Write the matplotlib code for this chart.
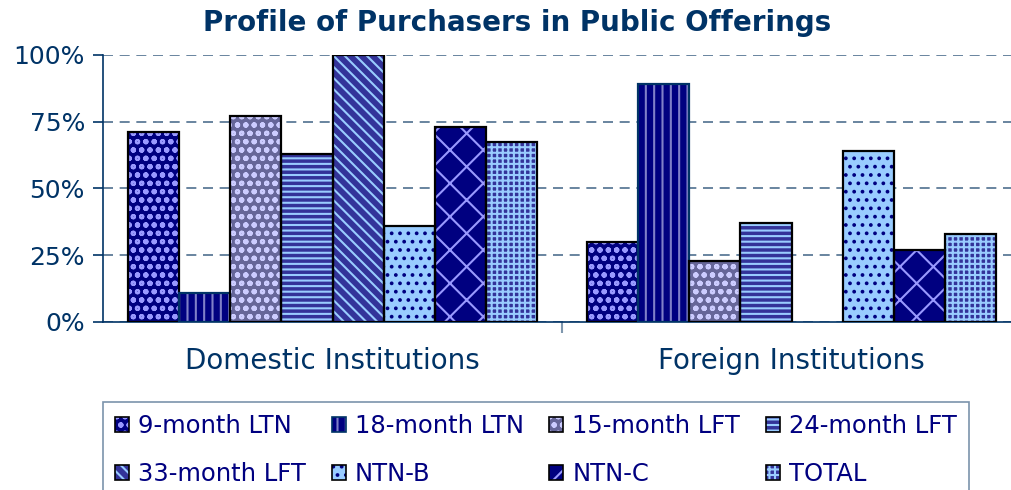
import numpy as np
import matplotlib
matplotlib.use('Agg')
import matplotlib.pyplot as plt
from matplotlib.patches import Patch
from matplotlib.legend_handler import HandlerTuple

categories = ['Domestic Institutions', 'Foreign Institutions']
series = ['9-month LTN', '18-month LTN', '15-month LFT', '24-month LFT',
          '33-month LFT', 'NTN-B', 'NTN-C', 'TOTAL']
values = {
    '9-month LTN':  [71, 30],
    '18-month LTN': [11, 89],
    '15-month LFT': [77, 23],
    '24-month LFT': [63, 37],
    '33-month LFT': [100, 0],
    'NTN-B':        [36, 64],
    'NTN-C':        [73, 27],
    'TOTAL':        [67.5, 33],
}

# face colour, hatch colour, hatch, outline colour
styles = {
    '9-month LTN':  ('#000080', '#9999FF', 'oo', 'black'),
    '18-month LTN': ('#000080', '#8080C8', '||', '#003366'),
    '15-month LFT': ('#666699', '#CCCCFF', 'oo', 'black'),
    '24-month LFT': ('#333399', '#99CCFF', '---', 'black'),
    '33-month LFT': ('#333399', '#99CCFF', '\\\\\\', 'black'),
    'NTN-B':        ('#99CCFF', '#000080', '..', 'black'),
    'NTN-C':        ('#000080', '#9999FF', 'x', 'black'),
    'TOTAL':        ('#333399', '#99CCFF', '+++', 'black'),
}

navy = '#003366'
plt.rcParams['hatch.linewidth'] = 1.5
plt.rcParams['font.family'] = ['DejaVu Sans']

fig = plt.figure(figsize=(10.12, 4.9), dpi=100)
ax = fig.add_axes([0.1018, 0.3429, 0.9071, 0.5449])

x = np.arange(len(categories)) + 0.5
w = 0.1113
handles = []
for i, name in enumerate(series):
    face, hcol, hatch, edge = styles[name]
    vals = values[name]
    pos = x + (i - 3.5) * w
    ax.bar(pos, vals, w, color=face, edgecolor=hcol, linewidth=0,
           hatch=hatch, zorder=2)
    ax.bar(pos, vals, w, fill=False,
           edgecolor=[edge if v > 0 else 'none' for v in vals],
           linewidth=1.6, zorder=3)
    handles.append((Patch(facecolor=face, edgecolor=hcol, hatch=hatch, linewidth=0),
                    Patch(fill=False, edgecolor=edge, linewidth=1.2)))

ax.set_xlim(0, len(categories))
ax.set_ylim(0, 100)
ax.set_yticks([0, 25, 50, 75, 100])
ax.set_yticklabels(['0%', '25%', '50%', '75%', '100%'])
ax.tick_params(axis='y', colors=navy, labelsize=18, length=7, width=1.2,
               direction='out', pad=6)
ax.set_xticks(x)
ax.set_xticklabels(categories)
ax.tick_params(axis='x', which='major', length=0, labelsize=20,
               labelcolor=navy, pad=18)
ax.set_xticks([1], minor=True)
ax.tick_params(axis='x', which='minor', length=8, width=1.5, color='#7F97AE')

ax.yaxis.grid(True, linestyle=(0, (6, 4)), color='#4F6F8F', linewidth=1.2, zorder=0)
ax.set_axisbelow(True)
for s in ['top', 'right']:
    ax.spines[s].set_visible(False)
ax.spines['left'].set_color(navy)
ax.spines['bottom'].set_color(navy)
ax.spines['left'].set_linewidth(1.2)
ax.spines['bottom'].set_linewidth(1.2)

fig.text(0.511, 0.953, 'Profile of Purchasers in Public Offerings',
         ha='center', va='center', fontsize=20, fontweight='bold', color=navy)

# legend fills column by column, so reorder to read row by row
order = [0, 4, 1, 5, 2, 6, 3, 7]
leg = fig.legend([handles[k] for k in order], [series[k] for k in order],
                 loc='upper left',
                 bbox_to_anchor=(103 / 1012, 1 - 402 / 490), ncol=4,
                 handler_map={tuple: HandlerTuple(ndivide=1)},
                 fontsize=17.5, labelcolor='#000080', frameon=True, fancybox=False,
                 edgecolor='#5A7896', handlelength=0.58, handleheight=0.58,
                 handletextpad=0.37, columnspacing=1.05, labelspacing=1.0,
                 borderpad=0.5, borderaxespad=0)
leg.get_frame().set_linewidth(1.2)

fig.savefig('out.png', dpi=100)
